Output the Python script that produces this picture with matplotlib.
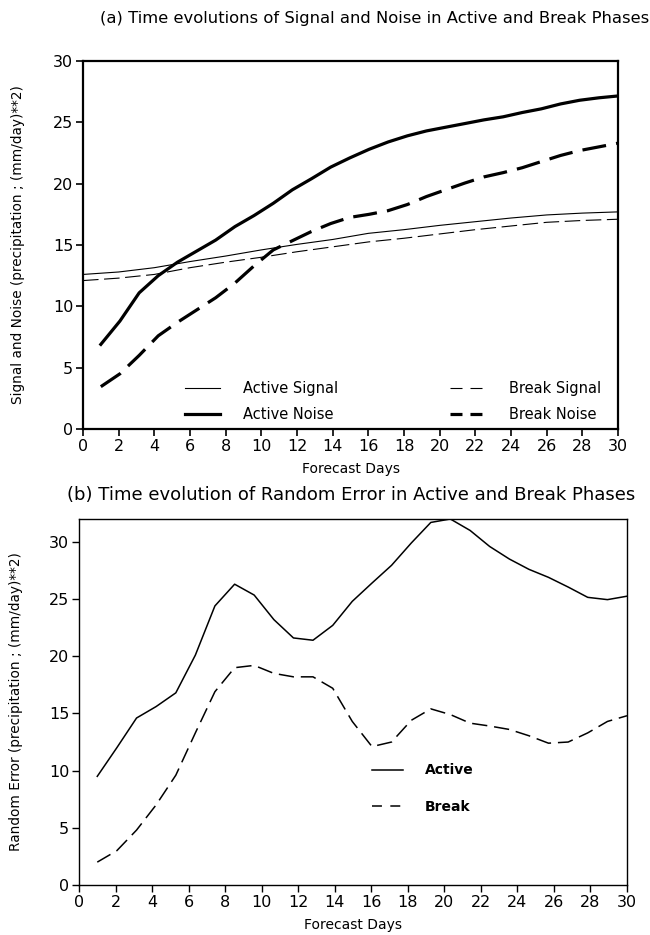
import matplotlib
matplotlib.use("Agg")
import matplotlib.pyplot as plt
from matplotlib.lines import Line2D

# ---------------- data ----------------
days = [1.00, 2.07, 3.15, 4.22, 5.30, 6.37, 7.44, 8.52, 9.59, 10.67,
        11.74, 12.81, 13.89, 14.96, 16.04, 17.11, 18.19, 19.26, 20.33, 21.41,
        22.48, 23.56, 24.63, 25.70, 26.78, 27.85, 28.93, 30.00]

sig_days = [0, 2, 4, 6, 8, 10, 12, 14, 16, 18, 20, 22, 24, 26, 28, 30]
active_signal = [12.6, 12.8, 13.15, 13.65, 14.1, 14.6, 15.05, 15.45, 15.95, 16.25,
                 16.6, 16.9, 17.2, 17.45, 17.6, 17.7]
break_signal = [12.1, 12.3, 12.6, 13.15, 13.6, 14.0, 14.45, 14.85, 15.25, 15.55,
                15.9, 16.25, 16.55, 16.85, 17.0, 17.1]

active_noise = [6.9, 8.8, 11.1, 12.5, 13.6, 14.5, 15.4, 16.5, 17.4, 18.4,
                19.5, 20.4, 21.35, 22.1, 22.8, 23.4, 23.9, 24.3, 24.6, 24.9,
                25.2, 25.45, 25.8, 26.1, 26.5, 26.8, 27.0, 27.15]
break_noise = [3.45, 4.5, 6.0, 7.6, 8.7, 9.7, 10.7, 11.9, 13.3, 14.6,
               15.35, 16.1, 16.75, 17.25, 17.5, 17.8, 18.3, 18.95, 19.5, 20.05,
               20.55, 20.9, 21.3, 21.8, 22.3, 22.7, 23.0, 23.3]

active_error = [9.5, 12.0, 14.6, 15.6, 16.8, 20.1, 24.4, 26.3, 25.35, 23.2,
                21.6, 21.4, 22.7, 24.8, 26.4, 27.95, 29.9, 31.7, 32.0, 31.0,
                29.6, 28.5, 27.6, 26.9, 26.05, 25.15, 24.95, 25.25]
break_error = [2.0, 3.0, 4.8, 7.0, 9.6, 13.3, 16.9, 19.0, 19.2, 18.5,
               18.2, 18.2, 17.2, 14.3, 12.1, 12.5, 14.4, 15.4, 14.9, 14.15,
               13.9, 13.6, 13.05, 12.4, 12.5, 13.3, 14.3, 14.8]

x_ticks = list(range(0, 31, 2))
y_ticks = [0, 5, 10, 15, 20, 25, 30]

title_a = "(a) Time evolutions of Signal and Noise in Active and Break Phases"
title_b = "(b) Time evolution of Random Error in Active and Break Phases"
ylabel_a = "Signal and Noise (precipitation ; (mm/day)**2)"
ylabel_b = "Random Error (precipitation ; (mm/day)**2)"
xlabel = "Forecast Days"

# ---------------- figure ----------------
plt.rcParams['font.family'] = ['DejaVu Sans']
fig = plt.figure(figsize=(6.5, 9.35), dpi=100)

W, H = 650, 935
def rect(l, t, r, b):
    return [l / W, 1 - b / H, (r - l) / W, (b - t) / H]

ax1 = fig.add_axes(rect(83, 61, 618, 429))
ax2 = fig.add_axes(rect(79, 519, 627, 885))

# panel a
thin = 0.8
thick = 2.3
ax1.plot(sig_days, active_signal, color='black', lw=thin)
ax1.plot(days, active_noise, color='black', lw=thick)
ax1.plot(sig_days, break_signal, color='black', lw=thin, ls=(0, (14, 5)))
ax1.plot(days, break_noise, color='black', lw=thick, ls=(0, (7.5, 3.2)))

ax1.set_xlim(0, 30)
ax1.set_ylim(0, 30)
ax1.set_xticks(x_ticks)
ax1.set_yticks(y_ticks)
for s in ax1.spines.values():
    s.set_linewidth(1.6)
ax1.tick_params(direction='out', length=5, width=1.2, labelsize=11.5, pad=2)
ax1.set_xlabel(xlabel, fontsize=10, fontweight='medium', labelpad=6)
ax1.set_ylabel(ylabel_a, fontsize=9.8, fontweight='medium', labelpad=20)
fig.text(0.577, 1 - 18 / H, title_a, ha='center', va='center', fontsize=11.8)

handles_a = [
    Line2D([], [], color='black', lw=thin),
    Line2D([], [], color='black', lw=thick),
    Line2D([], [], color='black', lw=thin, ls=(0, (10.8, 7.2))),
    Line2D([], [], color='black', lw=thick, ls=(0, (3.75, 2.5))),
]
labels_a = ['Active Signal', 'Active Noise', 'Break Signal', 'Break Noise']
ax1.legend(handles_a, labels_a, ncol=2, loc='lower left', bbox_to_anchor=(0.19, 0.02),
           frameon=False, fontsize=10.5, handlelength=2.4,
           handletextpad=1.6, columnspacing=7.7, labelspacing=0.75,
           borderpad=0, borderaxespad=0)

# panel b
ax2.plot(days, active_error, color='black', lw=1.1)
ax2.plot(days, break_error, color='black', lw=1.1, ls=(0, (10, 4.5)))
ax2.set_xlim(0, 30)
ax2.set_ylim(0, 32)
ax2.set_xticks(x_ticks)
ax2.set_yticks(y_ticks)
for s in ax2.spines.values():
    s.set_linewidth(1.0)
ax2.tick_params(direction='out', length=5, width=1.0, labelsize=11.5, pad=2)
ax2.set_xlabel(xlabel, fontsize=10, fontweight='medium', labelpad=6)
ax2.set_ylabel(ylabel_b, fontsize=9.8, fontweight='medium', labelpad=19)
fig.text(0.54, 1 - 495 / H, title_b, ha='center', va='center', fontsize=13)

handles_b = [
    Line2D([], [], color='black', lw=1.1),
    Line2D([], [], color='black', lw=1.1, ls=(0, (6.5, 5.5))),
]
ax2.legend(handles_b, ['Active', 'Break'], loc='lower left', bbox_to_anchor=(0.535, 0.195),
           frameon=False, prop={'size': 10, 'weight': 'bold'},
           handlelength=2.2, handletextpad=1.6, labelspacing=1.6,
           borderpad=0, borderaxespad=0)

fig.savefig('out.png', dpi=100)
